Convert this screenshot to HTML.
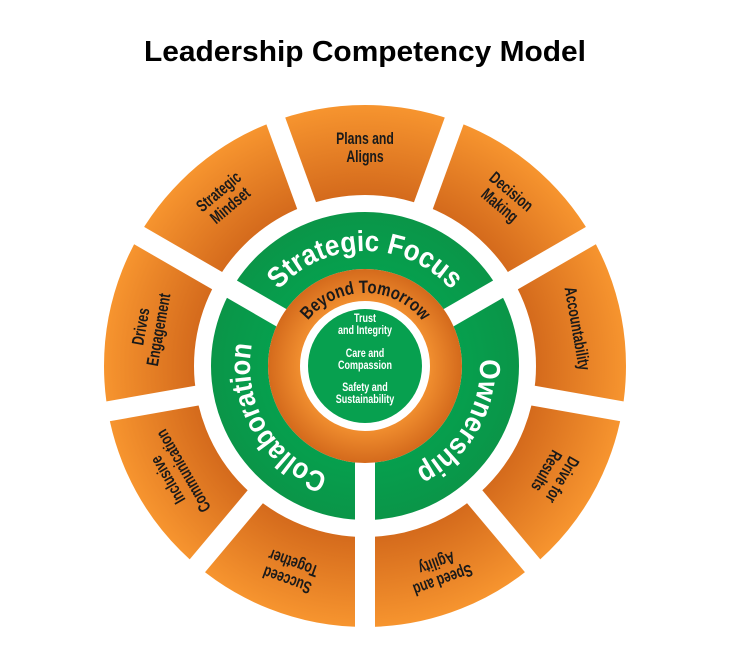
<!DOCTYPE html>
<html><head><meta charset="utf-8"><style>
html,body{margin:0;padding:0;background:#fff;width:730px;height:650px;overflow:hidden}
svg{display:block}
.t{font-family:"Liberation Sans Narrow","Liberation Sans",sans-serif;font-weight:bold}
</style></head><body>
<svg width="730" height="650" viewBox="0 0 730 650">
<defs>
<radialGradient id="og" cx="365" cy="366" r="262" gradientUnits="userSpaceOnUse">
<stop offset="0.65" stop-color="#d46a1c"/><stop offset="1" stop-color="#f7952f"/>
</radialGradient>
<radialGradient id="gg" cx="365" cy="366" r="155" gradientUnits="userSpaceOnUse">
<stop offset="0.6" stop-color="#06a04e"/><stop offset="1" stop-color="#0a9548"/>
</radialGradient>
<radialGradient id="og2" cx="365" cy="366" r="97" gradientUnits="userSpaceOnUse">
<stop offset="0.65" stop-color="#f29030"/><stop offset="1" stop-color="#d46a1c"/>
</radialGradient>
<path id="gp" d="M 365 481 A 115 115 0 1 1 365 251 A 115 115 0 1 1 365 481"/>
<path id="bp" d="M 292 366 A 73 73 0 0 1 438 366"/>
</defs>
<text x="365" y="61" text-anchor="middle" font-family="Liberation Sans, sans-serif" font-weight="bold" font-size="29" fill="#000" textLength="442" lengthAdjust="spacingAndGlyphs">Leadership Competency Model</text>

<circle cx="365" cy="366" r="216" fill="none" stroke="url(#og)" stroke-width="90"/>
<g stroke="#fff" stroke-width="20">
<line x1="365" y1="366" x2="650" y2="366" transform="rotate(-70 365 366)"/>
<line x1="365" y1="366" x2="650" y2="366" transform="rotate(-30 365 366)"/>
<line x1="365" y1="366" x2="650" y2="366" transform="rotate(10 365 366)"/>
<line x1="365" y1="366" x2="650" y2="366" transform="rotate(50 365 366)"/>
<line x1="365" y1="366" x2="650" y2="366" transform="rotate(90 365 366)"/>
<line x1="365" y1="366" x2="650" y2="366" transform="rotate(130 365 366)"/>
<line x1="365" y1="366" x2="650" y2="366" transform="rotate(170 365 366)"/>
<line x1="365" y1="366" x2="650" y2="366" transform="rotate(210 365 366)"/>
<line x1="365" y1="366" x2="650" y2="366" transform="rotate(250 365 366)"/>
</g>
<circle cx="365" cy="366" r="125.5" fill="none" stroke="url(#gg)" stroke-width="57"/>
<g stroke="#fff" stroke-width="20">
<line x1="365" y1="366" x2="525" y2="366" transform="rotate(-30 365 366)"/>
<line x1="365" y1="366" x2="525" y2="366" transform="rotate(90 365 366)"/>
<line x1="365" y1="366" x2="525" y2="366" transform="rotate(210 365 366)"/>
</g>
<circle cx="365" cy="366" r="81" fill="none" stroke="url(#og2)" stroke-width="32"/>
<circle cx="365" cy="366" r="57" fill="#07a04f"/>

<g class="t" font-size="29" fill="#fff">
<text><textPath href="#gp" startOffset="120" text-anchor="middle" textLength="165" lengthAdjust="spacingAndGlyphs">Collaboration</textPath></text>
<text><textPath href="#gp" startOffset="361" text-anchor="middle" textLength="195" lengthAdjust="spacingAndGlyphs">Strategic Focus</textPath></text>
<text><textPath href="#gp" startOffset="602" text-anchor="middle" textLength="135" lengthAdjust="spacingAndGlyphs">Ownership</textPath></text>
</g>
<text class="t" font-size="18" fill="#1a1a1a"><textPath href="#bp" startOffset="115" text-anchor="middle" textLength="132" lengthAdjust="spacingAndGlyphs">Beyond Tomorrow</textPath></text>

<g class="t" font-size="12" fill="#fff" text-anchor="middle" transform="translate(365 0) scale(0.75 1) translate(-365 0)">
<text x="365" y="322">Trust</text><text x="365" y="334">and Integrity</text>
<text x="365" y="357">Care and</text><text x="365" y="369">Compassion</text>
<text x="365" y="391">Safety and</text><text x="365" y="403">Sustainability</text>
</g>

<g class="t" font-size="17" fill="#1a1a1a" text-anchor="middle">
<g transform="rotate(0 365 366)"><text transform="translate(365 0) scale(0.72 1) translate(-365 0)"><tspan x="365" y="144">Plans and</tspan><tspan x="365" y="162">Aligns</tspan></text></g>
<g transform="rotate(40 365 366)"><text transform="translate(365 0) scale(0.72 1) translate(-365 0)"><tspan x="365" y="144">Decision</tspan><tspan x="365" y="162">Making</tspan></text></g>
<g transform="rotate(80 365 366)"><text transform="translate(365 0) scale(0.72 1) translate(-365 0)"><tspan x="365" y="156">Accountability</tspan></text></g>
<g transform="rotate(120 365 366)"><text transform="translate(365 0) scale(0.72 1) translate(-365 0)"><tspan x="365" y="144">Drive for</tspan><tspan x="365" y="162">Results</tspan></text></g>
<g transform="rotate(160 365 366)"><text transform="translate(365 0) scale(0.72 1) translate(-365 0)"><tspan x="365" y="144">Speed and</tspan><tspan x="365" y="162">Agility</tspan></text></g>
<g transform="rotate(200 365 366)"><text transform="translate(365 0) scale(0.72 1) translate(-365 0)"><tspan x="365" y="144">Succeed</tspan><tspan x="365" y="162">Together</tspan></text></g>
<g transform="rotate(240 365 366)"><text transform="translate(365 0) scale(0.72 1) translate(-365 0)"><tspan x="365" y="144">Inclusive</tspan><tspan x="365" y="162">Communication</tspan></text></g>
<g transform="rotate(280 365 366)"><text transform="translate(365 0) scale(0.72 1) translate(-365 0)"><tspan x="365" y="144">Drives</tspan><tspan x="365" y="162">Engagement</tspan></text></g>
<g transform="rotate(320 365 366)"><text transform="translate(365 0) scale(0.72 1) translate(-365 0)"><tspan x="365" y="144">Strategic</tspan><tspan x="365" y="162">Mindset</tspan></text></g>
</g>
</svg>
</body></html>
